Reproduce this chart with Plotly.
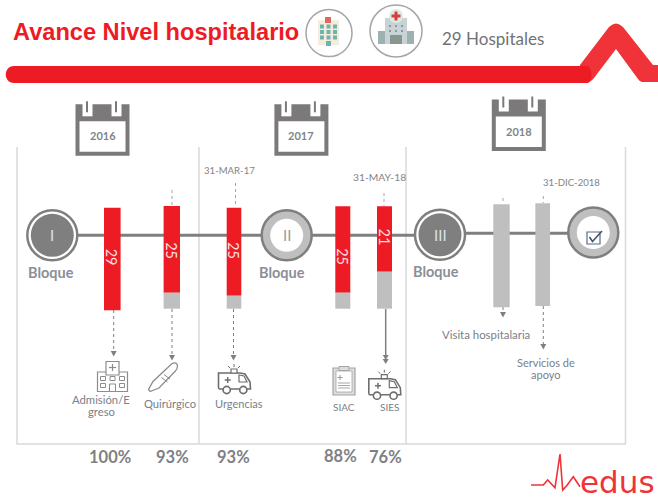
import plotly.graph_objects as go

# ---- data ----
modules = ["Admisión/Egreso", "Quirúrgico", "Urgencias", "SIAC", "SIES", "Visita hospitalaria", "Servicios de apoyo"]
hospitals_done = [29, 25, 25, 25, 21, 0, 0]
percent_labels = ["100%", "93%", "93%", "88%", "76%"]
years = ["2016", "2017", "2018"]
dates = ["31-MAR-17", "31-MAY-18", "31-DIC-2018"]

# ---- layout of the timeline (pixel scale of the page) ----
bar_x = [112.3, 171.8, 234, 342.8, 384.5, 501.5, 542.7]
bar_w = [16.6, 16.4, 14.6, 15, 15, 16.4, 14.7]
bar_top = [207.7, 206, 207.7, 206.3, 206.3, 204.3, 203.3]
red_len = [102.6, 86.7, 88, 86.4, 65.4, 0, 0]
gray_len = [0, 16, 13, 16, 37, 103, 102.7]
count_y = [257, 251, 250, 257, 237]
pct_x = [110.3, 172, 233, 340, 385.7]
pct_y = [457, 457, 457, 456, 457]

RED = "#ed1c24"
RED2 = "#ef3338"
DK = "#7f7f7f"
MID = "#bfbfbf"
FRAME = "#d9d9d9"
TXT = "#7b8088"

shapes = []
ann = []

def line(x0, y0, x1, y1, c=DK, w=1, dash=None, layer="above"):
    shapes.append(dict(type="line", x0=x0, y0=y0, x1=x1, y1=y1, layer=layer,
                       line=dict(color=c, width=w, dash=dash or "solid")))

def rect(x0, y0, x1, y1, fill=None, c=None, w=0, layer="above"):
    shapes.append(dict(type="rect", x0=x0, y0=y0, x1=x1, y1=y1, layer=layer,
                       fillcolor=fill or "rgba(0,0,0,0)", line=dict(color=c or "rgba(0,0,0,0)", width=w)))

def circ(cx, cy, r, fill=None, c=None, w=0, ry=None, layer="above"):
    ry = ry or r
    shapes.append(dict(type="circle", x0=cx - r, y0=cy - ry, x1=cx + r, y1=cy + ry, layer=layer,
                       fillcolor=fill or "rgba(0,0,0,0)", line=dict(color=c or "rgba(0,0,0,0)", width=w)))

def path(d, fill=None, c=None, w=0, layer="above"):
    shapes.append(dict(type="path", path=d, layer=layer,
                       fillcolor=fill or "rgba(0,0,0,0)", line=dict(color=c or "rgba(0,0,0,0)", width=w)))

def text(x, y, s, size=10, color=TXT, bold=False, family="Lato", angle=0, xanchor="center"):
    ann.append(dict(x=x, y=y, text=f"<b>{s}</b>" if bold else s, showarrow=False, xanchor=xanchor, yanchor="middle",
                    textangle=angle, xref="x", yref="y",
                    font=dict(size=size, color=color, family=family)))

def arrowhead(x, y0, y1, c=DK):
    path(f"M{x-3},{y0} L{x+3},{y0} L{x},{y1} Z", fill=c)

# header band with the pulse
path("M580,65 L609,27 Q616,20 623,27 L653,65 L658,65 L658,82 L642,82 Q640,82 638,79 L616,49 L594,78 Q591,82 586,83 L580,83 Z",
     fill=RED2, layer="below")
path("M14,66 L587,66 C592,66 594,82 587,83 L14,83 C3,83 3,66 14,66 Z", fill=RED)
text(10.5, 31.5, "Avance Nivel hospitalario", size=23.6, color=RED, bold=True, family="Liberation Sans", xanchor="left")
text(440, 38, "29 Hospitales", size=17, color="#6f7376", family="Lato", xanchor="left")

# header icons
circ(329, 33, 23, fill="white", c="#a6a6a6", w=1.5, ry=23.6)
rect(318, 20, 339, 45, fill="#f6ecdc")
rect(325, 17, 331, 23, fill="#e0685c")
for cx in (322, 328.5, 335):
    for cy in (26.5, 32, 37.5):
        rect(cx - 2, cy - 2, cx + 2, cy + 2, fill="#6fb3ae")
rect(326, 41, 331, 46, fill="#6fb3ae")
circ(396, 31, 26, fill="white", c="#a6a6a6", w=1.5)
rect(378, 31, 414, 44, fill="#9fb0b0")
rect(385, 18, 407, 44, fill="#c9d3d5")
rect(390, 35, 402, 44, fill="#87978f")
circ(396, 16, 7, fill="#d8ece6")
rect(394.5, 11.5, 397.5, 20.5, fill="#dd3b3b")
rect(391.5, 14.5, 400.5, 17.5, fill="#dd3b3b")
for cx in (390, 396, 402):
    for cy in (26, 31):
        rect(cx - 1, cy - 1, cx + 1, cy + 1, fill="#8a9a9a")

# calendars
def calendar(x, y, label):
    w, h = 54, 51.5
    rect(x, y, x + w, y + h, fill="#7c797a")
    rect(x + 4, y + 17, x + w - 4, y + h - 4, fill="white")
    for nx in (7, 36):
        rect(x + nx, y - 1, x + nx + 10, y + 12, fill="white")
        rect(x + nx + 3.5, y - 3, x + nx + 5.5, y + 8, fill="#7c797a")
    text(x + w / 2, y + 31.5, label, size=11, color="#7f8488", bold=True)

calendar(75.5, 104.3, years[0])
calendar(274.4, 104.3, years[1])
calendar(491.8, 99.5, years[2])

# frame
for fx in (17, 199, 406, 625.5):
    line(fx, 147, fx, 444, c=FRAME, w=1.5, layer="below")
line(16.5, 444, 626, 444, c=FRAME, w=1.5, layer="below")

# timeline
line(52, 235.3, 440, 235.3, c=DK, w=3, layer="below")
line(440, 233.2, 593, 233.2, c=DK, w=3, layer="below")

# leaders above bars
for lx, y0, y1 in [(172, 190, 206), (235.5, 183, 207), (384, 193, 206), (503, 198, 204), (543.3, 196, 203)]:
    line(lx, y0, lx, y1, c="#a6a6a6", w=1, dash="dot", layer="below")
# leaders below bars
for lx, y0, y1 in [(113.7, 310, 351), (172, 309, 355), (233.5, 309, 355), (503, 307, 312), (543.3, 306, 344)]:
    line(lx, y0, lx, y1, c=DK, w=1, dash="dot", layer="below")
    arrowhead(lx, y1, y1 + 5.5)
line(385.7, 309, 385.7, 358, c=DK, w=1.5, layer="below")
arrowhead(385.7, 355, 360)
arrowhead(385.7, 359, 364)

# timeline nodes
def node_dark(cx, cy, label):
    circ(cx, cy, 25, fill="white", c=DK, w=2.5)
    circ(cx, cy, 21.5, fill=DK)
    text(cx, cy, label, size=15, color="#d8e2f0")

def node_light(cx, cy):
    circ(cx, cy, 25, fill=MID, c=DK, w=2.5)
    circ(cx, cy, 16.5, fill="white")

node_dark(52.3, 235.3, "I")
node_light(286.7, 235.3)
text(286.7, 235.3, "II", size=15, color="#9a9a9a")
node_dark(440, 234.8, "III")
node_light(593.3, 232.5)
rect(587, 232, 600, 244, c="#5b6b85", w=1.2)
path("M589.5,237 L592.5,241.5 L602,231", c="#44546a", w=1.6)

for lx, ly in [(51, 272.7), (282, 272.7), (436, 271)]:
    text(lx, ly, "Bloque", size=14.5, color="#8a8f98", bold=True)

# icons
def hospital_icon():
    c, w = "#8c8c8c", 1.2
    rect(97.5, 372, 127.5, 391.5, fill="white", c=c, w=w)
    rect(106, 361.5, 119, 375, fill="white", c=c, w=w)
    line(112.5, 364, 112.5, 371, c=c, w=1.2)
    line(109, 367.5, 116, 367.5, c=c, w=1.2)
    for cx in (103, 112.5, 122):
        rect(cx - 2.5, 376.5, cx + 2.5, 380.5, c=c, w=1)
    for cx in (103, 122):
        rect(cx - 2.5, 383.5, cx + 2.5, 387.5, c=c, w=1)
    rect(109.5, 384, 115.5, 391.5, fill="white", c=c, w=1)

def thermometer_icon():
    c = "#8c8c8c"
    path("M172,363.5 Q177,361.5 177.5,366 Q177.5,369 175,371.5 L159,388 L150,391.5 L148.5,389.5 L153,381.5 Z",
         fill="white", c=c, w=1.3)
    line(161.5, 377.5, 167.5, 382, c=c, w=1)
    line(164, 374.5, 170, 379, c=c, w=1)

def ambulance_icon(dx, dy):
    c = "#6e6e6e"
    path(f"M{218.5+dx},{373+dy} L{238+dx},{373+dy} L{240+dx},{373+dy} L{245+dx},{374+dy} L{250+dx},{382+dy} L{250.5+dx},{389+dy} "
         f"L{219.5+dx},{389+dy} Q{218.5+dx},{389+dy} {218.5+dx},{387+dy} Z", fill="white", c=c, w=1.6)
    path(f"M{239+dx},{375+dy} L{244+dx},{376+dy} L{247+dx},{382+dy} L{239+dx},{382+dy} Z", fill="white", c=c, w=1.2)
    circ(226.7 + dx, 390 + dy, 3.6, fill="white", c=c, w=1.6)
    circ(243.3 + dx, 390 + dy, 3.6, fill="white", c=c, w=1.6)
    rect(231 + dx, 369 + dy, 237 + dx, 373 + dy, fill="white", c=c, w=1.2)
    line(227.7 + dx, 377 + dy, 227.7 + dx, 383 + dy, c=c, w=1.5)
    line(224.7 + dx, 380 + dy, 230.7 + dx, 380 + dy, c=c, w=1.5)
    for x0, y0, x1, y1 in [(234, 367, 234, 364), (230, 368, 228, 366), (238, 368, 240, 366)]:
        line(x0 + dx, y0 + dy, x1 + dx, y1 + dy, c=c, w=1)

def clipboard_icon():
    c = "#a6a6a6"
    rect(333, 368, 355, 395, fill="#dcdcdc", c=c, w=1.2)
    rect(336, 371, 352, 392, fill="white", c=c, w=0.8)
    rect(339, 366.5, 349, 370.5, fill="#dcdcdc", c=c, w=1)
    line(340, 375, 340, 380, c="#999999", w=1)
    line(337.5, 377.5, 342.5, 377.5, c="#999999", w=1)
    for ly in (383, 385.5, 388):
        line(338, ly, 350, ly, c=c, w=1)

hospital_icon()
thermometer_icon()
ambulance_icon(0, 0)
ambulance_icon(150.3, 5.7)
clipboard_icon()

# bar figures inside bars
for i, v in enumerate(hospitals_done):
    if v:
        text(bar_x[i], count_y[i], str(v), size=14.5, color="#fbdde0", angle=90)

# labels
text(101, 399, "Admisión/E", size=11.3, color=TXT)
text(101, 411, "greso", size=11.3, color=TXT)
text(170, 403.7, modules[1], size=11.2, color=TXT)
text(238.7, 403.7, modules[2], size=11, color=TXT)
text(343.7, 407, modules[3], size=10, color=TXT)
text(389, 407, modules[4], size=10, color=TXT)
text(486, 334, modules[5], size=11.4, color=TXT)
text(546, 362, "Servicios de", size=11, color=TXT)
text(545, 374, "apoyo", size=11, color=TXT)

text(229.5, 170, dates[0], size=9.6, color="#7f8488")
text(379.5, 177, dates[1], size=10.3, color="#7f8488")
text(571.7, 182.7, dates[2], size=9.6, color="#7f8488")

for px, py, s in zip(pct_x, pct_y, percent_labels):
    text(px, py, s, size=16.5, color="#7f8085", bold=True)

# logo
pulse_x = [531, 543.3, 547.7, 555, 560, 562.7, 566.7, 573.3, 580]
pulse_y = [485, 485, 480, 487.7, 454, 490, 485.7, 476.7, 486.7]
path("M" + " L".join(f"{a},{b}" for a, b in zip(pulse_x, pulse_y)), c=RED2, w=1.6)
text(617, 481.5, "edus", size=31, color=RED2, family="DejaVu Sans ExtraLight, DejaVu Sans")

# bars
fig = go.Figure()
fig.add_bar(x=bar_x, y=red_len, base=bar_top, width=bar_w, marker=dict(color=RED, line=dict(width=0)),
            name="Hospitales", hoverinfo="skip")
gray_base = [t + r for t, r in zip(bar_top, red_len)]
fig.add_bar(x=bar_x, y=gray_len, base=gray_base, width=bar_w, marker=dict(color=MID, line=dict(width=0)),
            name="Pendiente", hoverinfo="skip")

fig.update_layout(
    width=658, height=500, margin=dict(l=0, r=0, t=0, b=0),
    paper_bgcolor="white", plot_bgcolor="white",
    barmode="overlay", showlegend=False,
    xaxis=dict(range=[0, 658], visible=False, fixedrange=True),
    yaxis=dict(range=[500, 0], visible=False, fixedrange=True),
    shapes=shapes, annotations=ann,
)
fig.write_html("out.html", config=dict(displayModeBar=False),
               post_script="document.body.style.margin='0';")
